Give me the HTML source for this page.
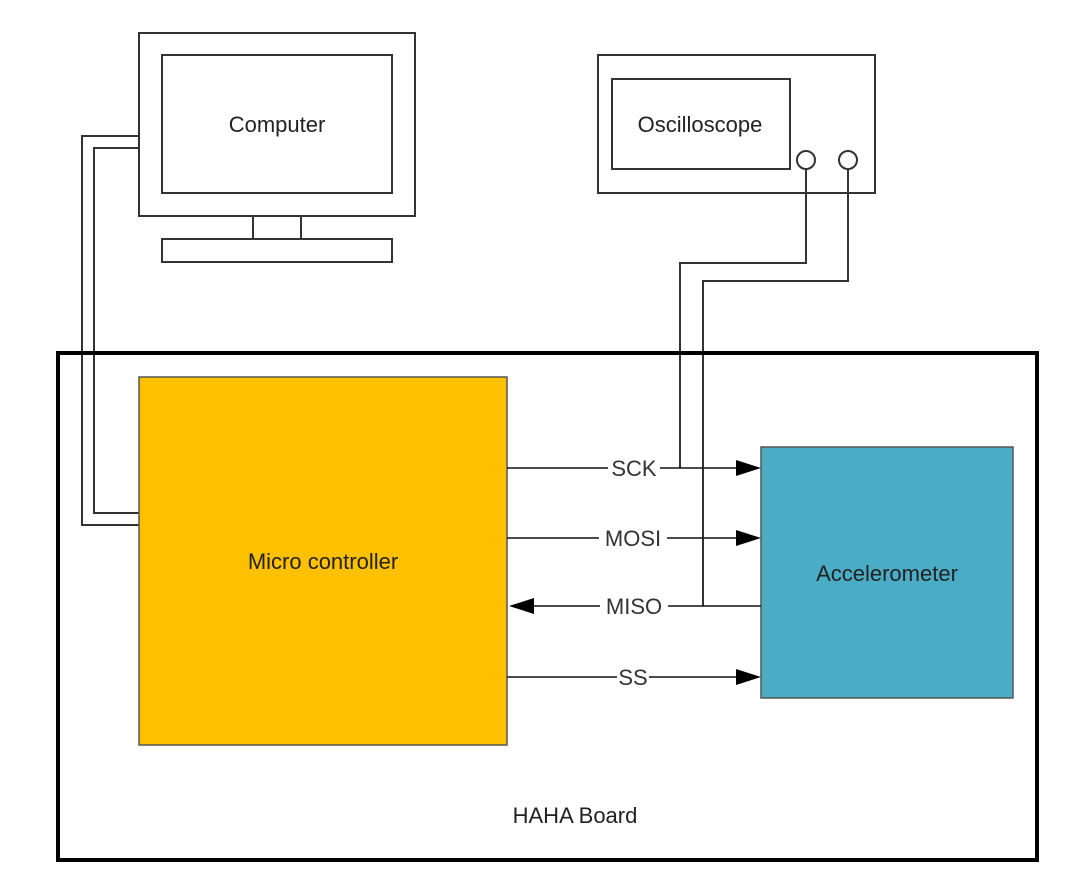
<!DOCTYPE html>
<html><head><style>body{margin:0;background:#fff}svg{display:block}</style></head><body>
<svg width="1068" height="873" viewBox="0 0 1068 873" xmlns="http://www.w3.org/2000/svg" font-family="Liberation Sans, sans-serif" font-size="22" fill="none" stroke="#333" stroke-width="2">
<rect x="139" y="33" width="276" height="183"/>
<rect x="162" y="55" width="230" height="138"/>
<rect x="253" y="216" width="48" height="23"/>
<rect x="162" y="239" width="230" height="23"/>
<text x="277" y="132" text-anchor="middle" fill="#222" stroke="none">Computer</text>
<polyline points="139,136 82,136 82,525 139,525"/>
<polyline points="139,148 94,148 94,513 139,513"/>
<rect x="598" y="55" width="277" height="138"/>
<rect x="612" y="79" width="178" height="90"/>
<text x="700" y="132" text-anchor="middle" fill="#222" stroke="none">Oscilloscope</text>
<circle cx="806" cy="160" r="9"/>
<circle cx="848" cy="160" r="9"/>
<polyline points="806,169 806,263 680,263 680,468"/>
<polyline points="848,169 848,281 703,281 703,606"/>
<rect x="58" y="353" width="979" height="507" stroke="#000" stroke-width="4"/>
<rect x="139" y="377" width="368" height="368" fill="#FFC000" stroke="#555" stroke-width="1.5"/>
<text x="323" y="569" text-anchor="middle" fill="#222" stroke="none">Micro controller</text>
<rect x="761" y="447" width="252" height="251" fill="#4BACC6" stroke="#555" stroke-width="1.5"/>
<text x="887" y="581" text-anchor="middle" fill="#222" stroke="none">Accelerometer</text>
<g stroke="#111" stroke-width="1.5">
<line x1="507" y1="468" x2="740" y2="468"/>
<line x1="507" y1="538" x2="740" y2="538"/>
<line x1="530" y1="606" x2="761" y2="606"/>
<line x1="507" y1="677" x2="740" y2="677"/>
</g>
<g fill="#000" stroke="none">
<polygon points="736,460 761,468 736,476"/>
<polygon points="736,530 761,538 736,546"/>
<polygon points="534,598 509,606 534,614"/>
<polygon points="736,669 761,677 736,685"/>
</g>
<g fill="#333" stroke="none" text-anchor="middle">
<rect x="608" y="455" width="52" height="24" fill="#fff"/>
<text x="634" y="476">SCK</text>
<rect x="599" y="525" width="68" height="24" fill="#fff"/>
<text x="633" y="546">MOSI</text>
<rect x="600" y="593" width="68" height="24" fill="#fff"/>
<text x="634" y="614">MISO</text>
<rect x="617" y="664" width="32" height="24" fill="#fff"/>
<text x="633" y="685">SS</text>
<text x="575" y="823" fill="#222">HAHA Board</text>
</g>
</svg>
</body></html>
